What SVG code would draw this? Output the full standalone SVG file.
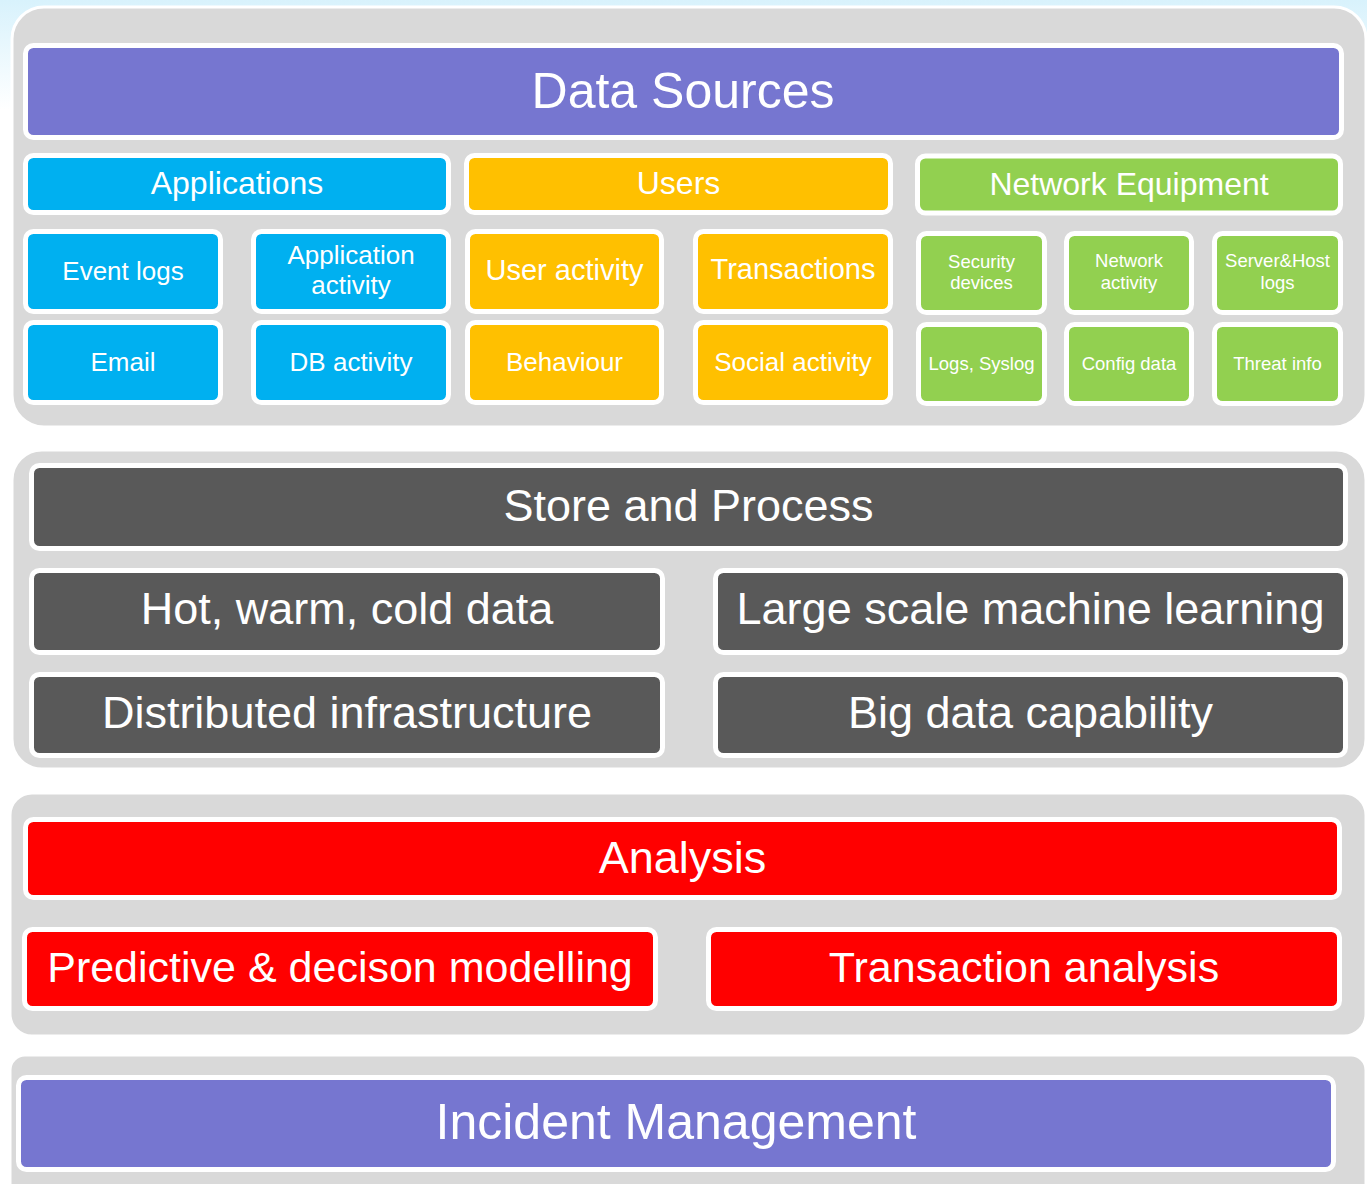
<svg xmlns="http://www.w3.org/2000/svg" width="1367" height="1184" viewBox="0 0 1367 1184">
<defs>
<linearGradient id="bg" x1="0" y1="0" x2="0" y2="1">
<stop offset="0" stop-color="#d8f2fc"/>
<stop offset="1" stop-color="#ffffff"/>
</linearGradient>
<style>
.panel{fill:#d9d9d9;stroke:#ffffff;stroke-width:3}
.b{stroke:#ffffff;stroke-width:5}
.blue{fill:#00b0f0}
.yel{fill:#ffc000}
.grn{fill:#92d050}
.pur{fill:#7676d0}
.dk{fill:#595959}
.red{fill:#ff0000}
text{font-family:"Liberation Sans",Arial,sans-serif;fill:#ffffff;text-anchor:middle}
.t50{font-size:50px}
.t45{font-size:45px}
.t43{font-size:43px}
.t32{font-size:32px}
.t29{font-size:29px}
.t26{font-size:26px}
.t18{font-size:18.5px}
</style>
</defs>
<rect x="0" y="0" width="1367" height="1184" fill="#ffffff"/>
<rect x="0" y="0" width="1367" height="110" fill="url(#bg)"/>

<g id="panels">
<rect class="panel" x="12" y="7" width="1354" height="420" rx="32"/>
<rect class="panel" x="12" y="450" width="1354" height="319" rx="30"/>
<rect class="panel" x="10" y="793" width="1356" height="243" rx="22"/>
<rect class="panel" x="10" y="1055" width="1356" height="150" rx="15"/>
</g>

<g id="connectors"></g>

<g id="data-sources">
<rect class="b pur" x="25.5" y="45.5" width="1316" height="92" rx="8"/>
<text class="t50" x="683" y="108">Data Sources</text>
</g>

<g id="applications">
<rect class="b blue" x="25.5" y="155.5" width="423" height="57" rx="8"/>
<text class="t32" x="237" y="194">Applications</text>
</g>
<g id="event-logs">
<rect class="b blue" x="25.5" y="231.5" width="195" height="80" rx="8"/>
<text class="t26" x="123" y="280">Event logs</text>
</g>
<g id="application-activity">
<rect class="b blue" x="253.5" y="231.5" width="195" height="80" rx="8"/>
<text class="t26" x="351" y="264">Application</text>
<text class="t26" x="351" y="294">activity</text>
</g>
<g id="email">
<rect class="b blue" x="25.5" y="322.5" width="195" height="80" rx="8"/>
<text class="t26" x="123" y="371">Email</text>
</g>
<g id="db-activity">
<rect class="b blue" x="253.5" y="322.5" width="195" height="80" rx="8"/>
<text class="t26" x="351" y="371">DB activity</text>
</g>

<g id="users">
<rect class="b yel" x="466.5" y="155.5" width="424" height="57" rx="8"/>
<text class="t32" x="678.5" y="194">Users</text>
</g>
<g id="user-activity">
<rect class="b yel" x="467.5" y="231.5" width="194" height="80" rx="8"/>
<text class="t29" x="564.5" y="280">User activity</text>
</g>
<g id="transactions">
<rect class="b yel" x="695.5" y="231.5" width="195" height="80" rx="8"/>
<text class="t29" x="793" y="279">Transactions</text>
</g>
<g id="behaviour">
<rect class="b yel" x="467.5" y="322.5" width="194" height="80" rx="8"/>
<text class="t26" x="564.5" y="371">Behaviour</text>
</g>
<g id="social-activity">
<rect class="b yel" x="695.5" y="322.5" width="195" height="80" rx="8"/>
<text class="t26" x="793" y="371">Social activity</text>
</g>

<g id="network-equipment">
<rect class="b grn" x="917.5" y="156" width="423" height="57" rx="8"/>
<text class="t32" x="1129" y="195">Network Equipment</text>
</g>
<g id="security-devices">
<rect class="b grn" x="918.5" y="233.5" width="126" height="79" rx="8"/>
<text class="t18" x="981.5" y="268">Security</text>
<text class="t18" x="981.5" y="289">devices</text>
</g>
<g id="network-activity">
<rect class="b grn" x="1066.5" y="233.5" width="125" height="79" rx="8"/>
<text class="t18" x="1129" y="267">Network</text>
<text class="t18" x="1129" y="289">activity</text>
</g>
<g id="server-host-logs">
<rect class="b grn" x="1214.5" y="233.5" width="126" height="79" rx="8"/>
<text class="t18" x="1277.5" y="267">Server&amp;Host</text>
<text class="t18" x="1277.5" y="289">logs</text>
</g>
<g id="logs-syslog">
<rect class="b grn" x="918.5" y="324.5" width="126" height="79" rx="8"/>
<text class="t18" x="981.5" y="370">Logs, Syslog</text>
</g>
<g id="config-data">
<rect class="b grn" x="1066.5" y="324.5" width="125" height="79" rx="8"/>
<text class="t18" x="1129" y="370">Config data</text>
</g>
<g id="threat-info">
<rect class="b grn" x="1214.5" y="324.5" width="126" height="79" rx="8"/>
<text class="t18" x="1277.5" y="370">Threat info</text>
</g>

<g id="store-and-process">
<rect class="b dk" x="31.5" y="465.5" width="1314" height="83" rx="8"/>
<text class="t45" x="688.5" y="521">Store and Process</text>
</g>
<g id="hot-warm-cold">
<rect class="b dk" x="31.5" y="570.5" width="631" height="82" rx="8"/>
<text class="t45" x="347" y="624">Hot, warm, cold data</text>
</g>
<g id="distributed-infrastructure">
<rect class="b dk" x="31.5" y="674.5" width="631" height="81" rx="8"/>
<text class="t45" x="347" y="728">Distributed infrastructure</text>
</g>
<g id="large-scale-ml">
<rect class="b dk" x="715.5" y="570.5" width="630" height="82" rx="8"/>
<text class="t45" x="1030.5" y="624">Large scale machine learning</text>
</g>
<g id="big-data">
<rect class="b dk" x="715.5" y="674.5" width="630" height="81" rx="8"/>
<text class="t45" x="1030.5" y="728">Big data capability</text>
</g>

<g id="analysis">
<rect class="b red" x="25.5" y="819.5" width="1314" height="78" rx="8"/>
<text class="t45" x="682.5" y="873">Analysis</text>
</g>
<g id="predictive">
<rect class="b red" x="24.5" y="929.5" width="631" height="79" rx="8"/>
<text class="t43" x="340" y="982">Predictive &amp; decison modelling</text>
</g>
<g id="transaction-analysis">
<rect class="b red" x="708.5" y="929.5" width="631" height="79" rx="8"/>
<text class="t43" x="1024" y="982">Transaction analysis</text>
</g>

<g id="incident-management">
<rect class="b pur" x="18.5" y="1077.5" width="1315" height="92" rx="8"/>
<text class="t50" x="676" y="1139">Incident Management</text>
</g>
</svg>
